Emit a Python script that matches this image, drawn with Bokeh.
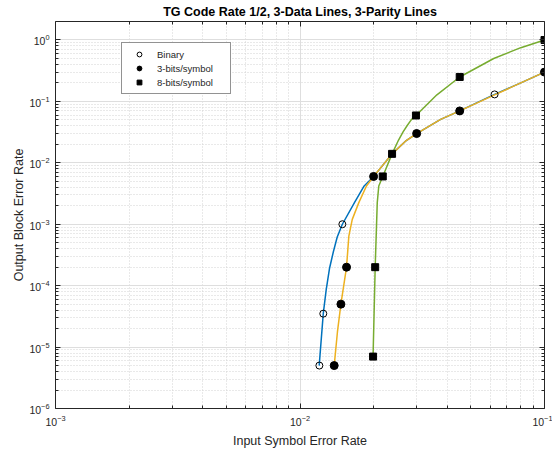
from bokeh.plotting import figure
from bokeh.models import LogAxis, FixedTicker, Range1d, Legend, LegendItem
from bokeh.embed import file_html
from bokeh.resources import INLINE

# ---- data ----
title = "TG Code Rate 1/2, 3-Data Lines, 3-Parity Lines"
x_label = "Input Symbol Error Rate"
y_label = "Output Block Error Rate"

# marker points
binary_x = [0.0120, 0.01245, 0.0149, 0.0625]
binary_y = [5e-6, 3.5e-5, 1.0e-3, 0.13]
bits3_x = [0.0138, 0.0147, 0.0155, 0.0200, 0.0300, 0.0450, 0.1000]
bits3_y = [5e-6, 5e-5, 2e-4, 6e-3, 0.030, 0.070, 0.300]
bits8_x = [0.0199, 0.0203, 0.0218, 0.0238, 0.0298, 0.0450, 0.1000]
bits8_y = [7e-6, 2e-4, 6e-3, 0.014, 0.059, 0.250, 1.000]

# fitted curves
binary_cx = [0.01198, 0.01245, 0.0128, 0.0132, 0.0137, 0.0142, 0.0149, 0.0167,
             0.0183, 0.0200, 0.0238, 0.0270, 0.0300, 0.0376, 0.0450, 0.0625, 0.0800, 0.1000]
binary_cy = [5e-6, 3.5e-5, 8.6e-5, 1.9e-4, 3.6e-4, 6.2e-4, 1.0e-3, 2.25e-3,
             4.2e-3, 6.0e-3, 0.014, 0.0225, 0.030, 0.051, 0.070, 0.130, 0.200, 0.300]
bits3_cx = [0.0138, 0.01423, 0.0147, 0.0155, 0.01584, 0.01636, 0.0174, 0.0187,
            0.0200, 0.0238, 0.0270, 0.0300, 0.0376, 0.0450, 0.0625, 0.0800, 0.1000]
bits3_cy = [5e-6, 1.78e-5, 5e-5, 2e-4, 6.4e-4, 1.2e-3, 2.25e-3, 4.2e-3,
            6.0e-3, 0.014, 0.0225, 0.030, 0.051, 0.070, 0.128, 0.200, 0.300]
bits8_cx = [0.0199, 0.0203, 0.0207, 0.0210, 0.0218, 0.0238, 0.0253, 0.0264,
            0.02745, 0.0285, 0.0298, 0.0363, 0.0450, 0.0620, 0.0800, 0.1000]
bits8_cy = [7e-6, 2e-4, 2.25e-3, 4.2e-3, 6e-3, 0.014, 0.0235, 0.0318,
            0.0405, 0.050, 0.059, 0.128, 0.250, 0.500, 0.750, 1.000]

x_major = [1e-3, 1e-2, 1e-1]
y_major = [1e-6, 1e-5, 1e-4, 1e-3, 1e-2, 1e-1, 1e0]
x_minor = [k * d for d in [1e-3, 1e-2] for k in range(2, 10)]
y_minor = [k * d for d in [1e-6, 1e-5, 1e-4, 1e-3, 1e-2, 1e-1] for k in range(2, 10)]

FONT = "Liberation Sans"
AX = "#262626"

p = figure(width=552, height=450, x_axis_type="log", y_axis_type="log",
           x_range=Range1d(1e-3, 1e-1), y_range=Range1d(1e-6, 2.0),
           output_backend="svg", toolbar_location=None,
           min_border_left=55, min_border_right=8, min_border_top=10, min_border_bottom=42)

p.title.text = title
p.title.align = "center"
p.title.text_font = FONT
p.title.text_font_size = "12.5px"
p.title.text_font_style = "bold"
p.title.text_color = "#000000"
p.title.standoff = 5

p.outline_line_color = None
p.background_fill_color = "white"

xt = FixedTicker(ticks=x_major, minor_ticks=x_minor)
yt = FixedTicker(ticks=y_major, minor_ticks=y_minor)


def style_axis(ax, labels=True):
    ax.axis_line_color = AX
    ax.major_tick_line_color = AX
    ax.minor_tick_line_color = AX
    ax.major_tick_in = 5
    ax.major_tick_out = 0
    ax.minor_tick_in = 3
    ax.minor_tick_out = 0
    ax.major_label_text_font = FONT
    ax.major_label_text_color = AX
    if labels:
        ax.major_label_text_font_size = "10.5px"
        ax.major_label_standoff = 6
    else:
        ax.major_label_text_font_size = "1px"
        ax.major_label_text_alpha = 0
        ax.major_label_standoff = 0
    ax.axis_label_text_font = FONT
    ax.axis_label_text_font_size = "12.5px"
    ax.axis_label_text_font_style = "normal"
    ax.axis_label_text_color = AX


p.xaxis.ticker = xt
p.yaxis.ticker = yt
p.xaxis.axis_label = x_label
p.yaxis.axis_label = y_label
style_axis(p.xaxis[0])
style_axis(p.yaxis[0])
p.xaxis.axis_label_standoff = 5
p.yaxis.axis_label_standoff = 0

top = LogAxis(ticker=FixedTicker(ticks=x_major, minor_ticks=x_minor))
right = LogAxis(ticker=FixedTicker(ticks=y_major, minor_ticks=y_minor))
style_axis(top, labels=False)
style_axis(right, labels=False)
p.add_layout(top, "above")
p.add_layout(right, "right")

p.xgrid.ticker = xt
p.ygrid.ticker = yt
for g in (p.xgrid[0], p.ygrid[0]):
    g.grid_line_color = "#dedede"
    g.grid_line_width = 1
    g.minor_grid_line_color = "#d2d2d2"
    g.minor_grid_line_dash = "1 2"
    g.minor_grid_line_width = 1

BLUE = "#0072BD"
YEL = "#EDB120"
GRN = "#77AC30"

p.line(binary_cx, binary_cy, line_color=BLUE, line_width=1.5)
p.line(bits3_cx, bits3_cy, line_color=YEL, line_width=1.5)
p.line(bits8_cx, bits8_cy, line_color=GRN, line_width=1.5)

r_bin = p.scatter(binary_x, binary_y, marker="circle", size=7, line_color="black",
                  fill_color=None, line_width=1)
r_3 = p.scatter(bits3_x, bits3_y, marker="circle", size=8, line_color="black",
                fill_color="black")
r_8 = p.scatter(bits8_x, bits8_y, marker="square", size=7, line_color="black",
                fill_color="black")

legend = Legend(items=[LegendItem(label="Binary", renderers=[r_bin]),
                       LegendItem(label="3-bits/symbol", renderers=[r_3]),
                       LegendItem(label="8-bits/symbol", renderers=[r_8])],
                location=(66, 314))
legend.label_text_font = FONT
legend.label_text_font_size = "9.5px"
legend.label_text_color = AX
legend.border_line_color = AX
legend.border_line_width = 1
legend.background_fill_color = "white"
legend.background_fill_alpha = 1
legend.padding = 5
legend.margin = 0
legend.glyph_width = 24
legend.glyph_height = 12
legend.label_height = 12
legend.label_width = 68
legend.label_standoff = 6
legend.spacing = 2
p.add_layout(legend)

open("out.html", "w").write(file_html(p, INLINE))
